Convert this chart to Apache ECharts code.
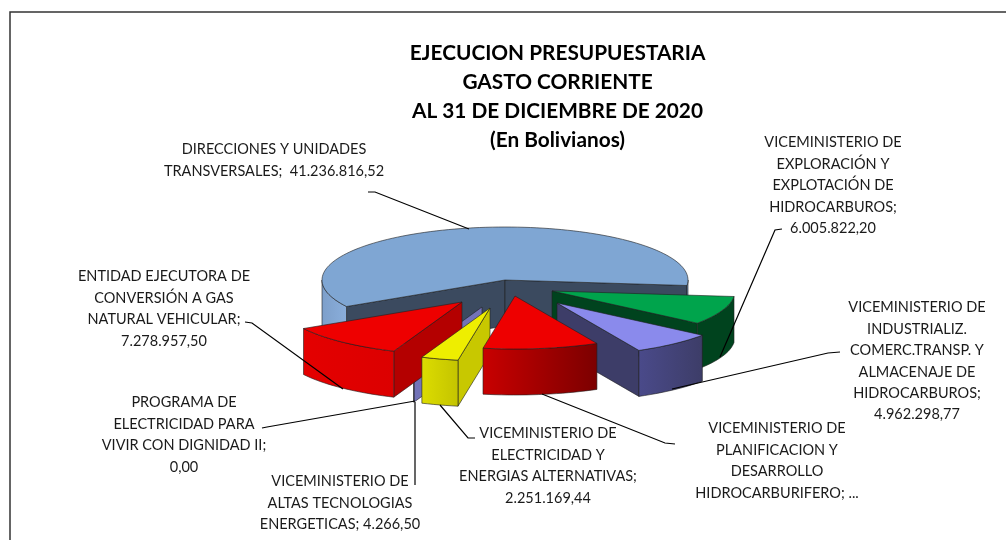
<!DOCTYPE html>
<html><head><meta charset="utf-8">
<style>html,body{margin:0;padding:0;background:#fff}#c{width:1006px;height:540px}</style>
<script src="https://cdn.jsdelivr.net/npm/echarts@6/dist/echarts.min.js"></script>
</head><body><div id="c"></div>
<script>
// ---- data ----
const categories = [
  'DIRECCIONES Y UNIDADES TRANSVERSALES',
  'VICEMINISTERIO DE EXPLORACIÓN Y EXPLOTACIÓN DE HIDROCARBUROS',
  'VICEMINISTERIO DE INDUSTRIALIZ. COMERC.TRANSP. Y ALMACENAJE DE HIDROCARBUROS',
  'VICEMINISTERIO DE PLANIFICACION Y DESARROLLO HIDROCARBURIFERO',
  'VICEMINISTERIO DE ELECTRICIDAD Y ENERGIAS ALTERNATIVAS',
  'VICEMINISTERIO DE ALTAS TECNOLOGIAS ENERGETICAS',
  'PROGRAMA DE ELECTRICIDAD PARA VIVIR CON DIGNIDAD II',
  'ENTIDAD EJECUTORA DE CONVERSIÓN A GAS NATURAL VEHICULAR'
];
const values = [41236816.52, 6005822.20, 4962298.77, 7000000, 2251169.44, 4266.50, 0, 7278957.50];
const labelTexts = [
  'DIRECCIONES Y UNIDADES\nTRANSVERSALES;  41.236.816,52',
  'VICEMINISTERIO DE\nEXPLORACIÓN Y\nEXPLOTACIÓN DE\nHIDROCARBUROS;\n6.005.822,20',
  'VICEMINISTERIO DE\nINDUSTRIALIZ.\nCOMERC.TRANSP. Y\nALMACENAJE DE\nHIDROCARBUROS;\n4.962.298,77',
  'VICEMINISTERIO DE\nPLANIFICACION Y\nDESARROLLO\nHIDROCARBURIFERO; ...',
  'VICEMINISTERIO DE\nELECTRICIDAD Y\nENERGIAS ALTERNATIVAS;\n2.251.169,44',
  'VICEMINISTERIO DE\nALTAS TECNOLOGIAS\nENERGETICAS; 4.266,50',
  'PROGRAMA DE\nELECTRICIDAD PARA\nVIVIR CON DIGNIDAD II;\n0,00',
  'ENTIDAD EJECUTORA DE\nCONVERSIÓN A GAS\nNATURAL VEHICULAR;\n7.278.957,50'
];
const titleText = 'EJECUCION PRESUPUESTARIA\nGASTO CORRIENTE\nAL 31 DE DICIEMBRE DE 2020\n(En Bolivianos)';

// ---- layout & style ----
const FONT = 'Lato, "Noto Sans", sans-serif';
const pie = {cx:505, cy:280, rx:183, ry:53, depth:46, startDeg:150};
const explode = [[0,0],[47,11],[52,23],[10,16],[-15,28],[-23,27],[-23,27],[-43,22]];
const drawOrder = [0,1,2,5,6,7,4,3];
const skins = [
  {top:'#7fa6d3', face:'#3b4a5f', wall:['#7d9fca','#8aaedb']},
  {top:'#00a44c', face:'#00431e', wall:['#00431e','#00431e']},
  {top:'#8a8aec', face:'#3d3d68', wall:['#4a4a8a','#3d3d68']},
  {top:'#ee0000', face:'#b00000', wall:['#c80000','#7c0000']},
  {top:'#eeee00', face:'#c8c800', wall:['#dcdc00','#c4c400']},
  {top:'#8080d0', face:'#7373b8', wall:['#7373b8','#7373b8']},
  {top:'#8080d0', face:'#7373b8', wall:['#7373b8','#7373b8']},
  {top:'#ee0000', face:'#b40000', wall:['#e40000','#dc0000']}
];
const labelAt = [[274,139],[833,132],[917,297],[777,418],[548,423],[340,471],[184,392],[164,266]];
const leaders = [
  [[368,192],[375,192],[469,229]],
  [[782,229],[775,230],[720,357]],
  [[840,352],[828,353],[672,389]],
  [[675,444],[665,443],[542,394]],
  [[475,438],[468,438],[440,405]],
  [[415,485],[415,402]],
  [[262,428],[267,427],[415,401]],
  [[245,322],[252,323],[343,389]]
];

const total = values.reduce((a,b)=>a+b,0);
function spans(){
  let a = pie.startDeg, out=[];
  values.forEach(v=>{const d=v/total*360; out.push([a,a+d]); a+=d;});
  return out;
}
const rad=d=>d*Math.PI/180;
function pt(i,deg,drop){
  const e=explode[i];
  return [pie.cx+e[0]+pie.rx*Math.cos(rad(deg)), pie.cy+e[1]+pie.ry*Math.sin(rad(deg))+(drop||0)];
}
function apex(i,drop){const e=explode[i];return [pie.cx+e[0],pie.cy+e[1]+(drop||0)];}
function arc(i,a,b,drop){
  const n=Math.max(2,Math.ceil(Math.abs(b-a)/2)),p=[];
  for(let k=0;k<=n;k++)p.push(pt(i,a+(b-a)*k/n,drop));
  return p;
}
const edge={stroke:'#1e1e1e',lineWidth:0.6};
function poly(points,fill,z){return {type:'polygon',shape:{points},style:Object.assign({fill},edge),z2:z};}
function sliceShapes(i,z){
  const [a,b]=spans()[i], s=skins[i], d=pie.depth, els=[];
  if(b-a<=0) return els;
  // radial faces visible to the viewer
  const sa=Math.sin(rad(a-90)), sb=Math.sin(rad(b+90));
  if(sa>0) els.push(poly([apex(i),pt(i,a),pt(i,a,d),apex(i,d)],s.face,z));
  if(sb>0) els.push(poly([apex(i),pt(i,b),pt(i,b,d),apex(i,d)],s.face,z));
  // front rim walls
  const ranges=[[Math.max(a,0),Math.min(b,180)],[Math.max(a,360),Math.min(b,540)]];
  ranges.forEach(r=>{
    if(r[1]<=r[0])return;
    const upper=arc(i,r[0],r[1]), lower=arc(i,r[1],r[0],d), pts=upper.concat(lower);
    const xs=pts.map(p=>p[0]), x0=Math.min(...xs), x1=Math.max(...xs);
    els.push({type:'polygon',shape:{points:pts},z2:z,style:Object.assign({
      fill:new echarts.graphic.LinearGradient(x0,0,x1,0,[{offset:0,color:s.wall[0]},{offset:1,color:s.wall[1]}],true)
    },edge)});
  });
  if(b-a>0.5) els.push(poly([apex(i)].concat(arc(i,a,b)),s.top,z));
  return els;
}
function renderAll(params,api){
  const children=[];
  drawOrder.forEach((i,k)=>{children.push(...sliceShapes(i,k*2+1));});
  leaders.forEach(l=>children.push({type:'polyline',shape:{points:l},style:{stroke:'#000',lineWidth:1.2,fill:null},z2:40}));
  labelTexts.forEach((t,i)=>children.push({type:'text',x:labelAt[i][0],y:labelAt[i][1],z2:50,
    style:{text:t,fill:'#1a1a1a',font:'14.5px '+FONT,align:'center',verticalAlign:'top',lineHeight:21.4}}));
  return {type:'group',children};
}
const chart=echarts.init(document.getElementById('c'),null,{renderer:'canvas'});
chart.setOption({
  animation:false,
  title:{text:titleText,left:552.5,top:34,textAlign:'center',
    textStyle:{fontFamily:FONT,fontWeight:'bold',fontSize:20.8,lineHeight:28.8,color:'#000'}},
  graphic:[{type:'polyline',shape:{points:[[10,546],[10,12],[1012,12]]},style:{stroke:'#333',lineWidth:1.5,fill:null}}],
  series:[{type:'custom',coordinateSystem:'none',data:values.map((v,i)=>({name:categories[i],value:v})),renderItem:(p,api)=>p.dataIndex===0?renderAll(p,api):null}]
});
</script></body></html>
